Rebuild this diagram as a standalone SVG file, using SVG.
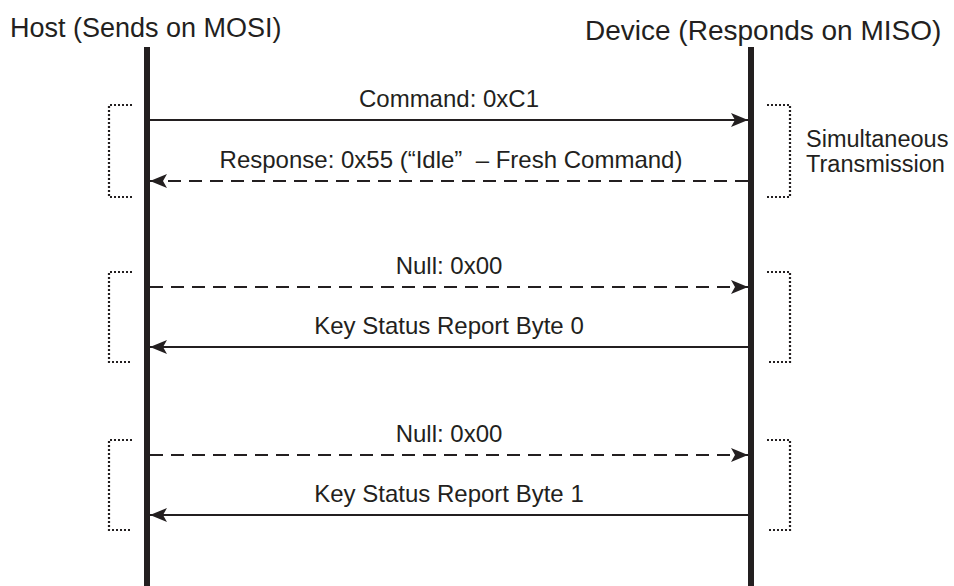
<svg xmlns="http://www.w3.org/2000/svg" width="954" height="586" viewBox="0 0 954 586">
<defs>
<marker id="ah" viewBox="0 0 17 14" refX="17" refY="7" markerWidth="17" markerHeight="14" markerUnits="userSpaceOnUse" orient="auto">
<path d="M0,0 L17,7 L0,14 L4,7 Z" fill="#231f20"/>
</marker>
<style>
text{font-family:"Liberation Sans",Arial,sans-serif;fill:#231f20}
.hdr{font-size:27px}
.hdr2{font-size:28px}
.lbl{font-size:24px;text-anchor:middle}
.side{font-size:23.5px}
.life{stroke:#231f20;stroke-width:6;fill:none}
.msg{stroke:#231f20;stroke-width:2;fill:none;marker-end:url(#ah)}
.dash{stroke-dasharray:13 8}
.brk{stroke:#231f20;stroke-width:2.2;fill:none;stroke-dasharray:2 2}
</style>
</defs>
<rect width="954" height="586" fill="#fff"/>
<g id="host">
<text class="hdr" x="10" y="37">Host (Sends on MOSI)</text>
<line class="life" x1="147" y1="47" x2="147" y2="586"/>
</g>
<g id="device">
<text class="hdr2" x="585" y="40">Device (Responds on MISO)</text>
<line class="life" x1="751" y1="47" x2="751" y2="586"/>
</g>
<g id="brackets">
<path class="brk" d="M132,105 H109 V197 H132"/>
<path class="brk" d="M767,105 H790 V197 H767"/>
<path class="brk" d="M132,272 H109 V362 H132"/>
<path class="brk" d="M767,272 H790 V362 H767"/>
<path class="brk" d="M132,440 H109 V530 H132"/>
<path class="brk" d="M767,440 H790 V530 H767"/>
</g>
<g id="note">
<text class="side" x="806" y="147">Simultaneous</text>
<text class="side" x="806" y="172">Transmission</text>
</g>
<g id="connectors">
<line class="msg" x1="150" y1="120" x2="748" y2="120"/>
<line class="msg dash" x1="748" y1="181" x2="150" y2="181"/>
<line class="msg dash" x1="150" y1="287" x2="748" y2="287"/>
<line class="msg" x1="748" y1="347" x2="150" y2="347"/>
<line class="msg dash" x1="150" y1="455" x2="748" y2="455"/>
<line class="msg" x1="748" y1="515" x2="150" y2="515"/>
</g>
<g id="labels">
<text class="lbl" x="449" y="107">Command: 0xC1</text>
<text class="lbl" x="451" y="168" xml:space="preserve">Response: 0x55 (“Idle”  – Fresh Command)</text>
<text class="lbl" x="449" y="274">Null: 0x00</text>
<text class="lbl" x="449" y="334">Key Status Report Byte 0</text>
<text class="lbl" x="449" y="442">Null: 0x00</text>
<text class="lbl" x="449" y="502">Key Status Report Byte 1</text>
</g>
</svg>
